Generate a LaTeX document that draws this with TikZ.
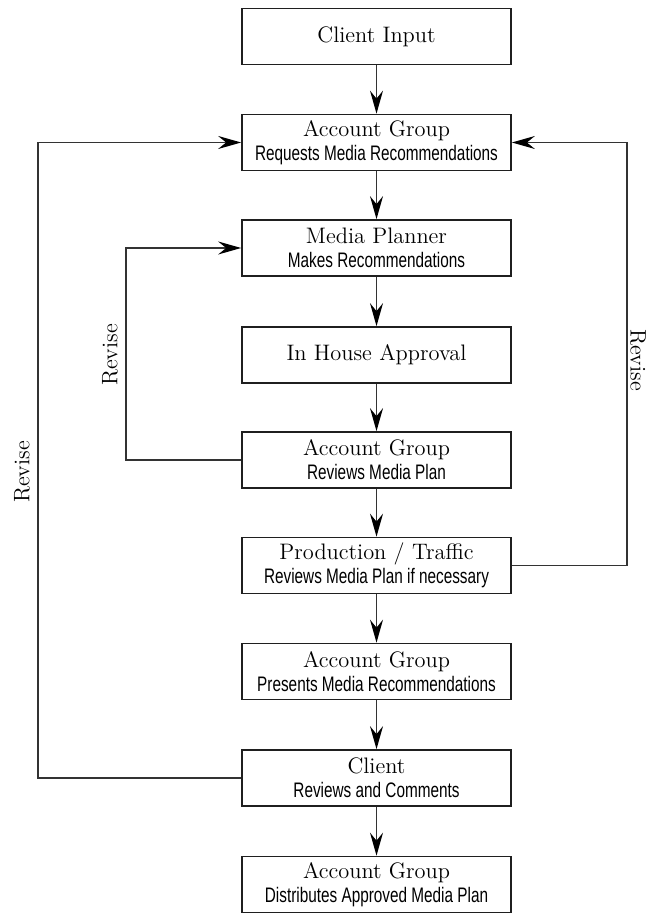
\documentclass[tikz,border=0pt]{standalone}
\usepackage{fontspec}
\newfontfamily\condfont[FakeStretch=0.73]{Liberation Sans}
\usetikzlibrary{arrows.meta}
\newcommand\subtx[1]{{\condfont\fontsize{10.5}{12}\selectfont #1}}
\begin{document}
\begin{tikzpicture}[x=0.5pt,y=-0.5pt,
  box/.style={draw=black!88, line width=0.85pt, minimum width=134.5pt, minimum height=28pt, inner sep=0pt, align=center, font=\fontsize{11.2}{12}\selectfont},
  conn/.style={draw=black!80, line width=0.65pt, -{Stealth[length=11.5pt,width=6.5pt,inset=4pt,black]}},
  lbl/.style={font=\fontsize{11.2}{12}\selectfont, inner sep=0pt}
]
\useasboundingbox (0,0) rectangle (651,913);
\node[box] (ci)  at (376.5,36.5)  {Client Input};
\node[box] (ag1) at (376.5,142.5) {Account Group\\\subtx{Requests Media Recommendations}};
\node[box] (mp)  at (376.5,248)   {Media Planner\\\subtx{Makes Recommendations}};
\node[box] (ih)  at (376.5,355)   {In House Approval};
\node[box] (ag2) at (376.5,460)   {Account Group\\\subtx{Reviews Media Plan}};
\node[box] (pt)  at (376.5,565.5) {Production / Traffic\\\subtx{Reviews Media Plan if necessary}};
\node[box] (ag3) at (376.5,671.5) {Account Group\\\subtx{Presents Media Recommendations}};
\node[box] (cl)  at (376.5,778)   {Client\\\subtx{Reviews and Comments}};
\node[box] (ag4) at (376.5,884.5) {Account Group\\\subtx{Distributes Approved Media Plan}};

\draw[conn] (ci) -- (ag1);
\draw[conn] (ag1) -- (mp);
\draw[conn] (mp) -- (ih);
\draw[conn] (ih) -- (ag2);
\draw[conn] (ag2) -- (pt);
\draw[conn] (pt) -- (ag3);
\draw[conn] (ag3) -- (cl);
\draw[conn] (cl) -- (ag4);

\coordinate (xin) at (126,0);
\coordinate (xout) at (38,0);
\coordinate (xr) at (627,0);
\draw[conn] (ag2.west) -- (ag2.west -| xin) -- (mp.west -| xin) -- (mp.west);
\draw[conn] (cl.west) -- (cl.west -| xout) -- (ag1.west -| xout) -- (ag1.west);
\draw[conn] (pt.east) -- (pt.east -| xr) -- (ag1.east -| xr) -- (ag1.east);

\node[lbl, rotate=90] (r1) at (110,355) {Revise};
\node[lbl, rotate=90] (r2) at (22,472) {Revise};
\node[lbl, rotate=-90] (r3) at (638,360) {Revise};
\end{tikzpicture}
\end{document}
